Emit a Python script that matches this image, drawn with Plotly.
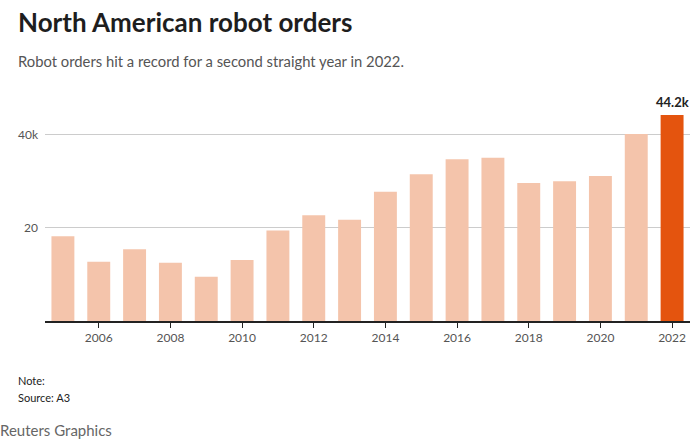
import plotly.graph_objects as go

years = list(range(2005, 2023))
orders = [18.2, 12.7, 15.4, 12.5, 9.5, 13.1, 19.4, 22.7, 21.7, 27.7,
          31.5, 34.7, 35.0, 29.6, 30.0, 31.1, 40.1, 44.2]
x_ticks = list(range(2006, 2023, 2))
y_ticks = [20, 40]
y_labels = ["20", "40k"]

light = "#f4c4ab"
dark = "#e4540e"
colors = [dark if y == 2022 else light for y in years]

FONT = "Lato"
L, T, PW, PH = 45, 100, 645, 221

def px(x):
    return (x - L) / PW

def py(y):
    return (T + PH - y) / PH

fig = go.Figure(go.Bar(x=years, y=orders, marker_color=colors, marker_line_width=0,
                       width=0.64, hoverinfo="skip"))

fig.add_annotation(x=years[-1], y=orders[-1], text="<b>44.2k</b>", showarrow=False,
                   yanchor="bottom", yshift=3, font=dict(size=13, color="#222", family=FONT))

fig.update_layout(
    width=698, height=442,
    margin=dict(l=L, r=698 - L - PW, t=T, b=442 - T - PH),
    paper_bgcolor="white", plot_bgcolor="white",
    showlegend=False,
    font=dict(family=FONT, color="#444"),
    xaxis=dict(range=[2004.5, 2022.5], tickvals=x_ticks, ticks="outside", ticklen=5,
               tickcolor="#222", showline=True, linecolor="#222", linewidth=1.5,
               showgrid=False, tickfont=dict(size=12, color="#555"), fixedrange=True),
    yaxis=dict(range=[0, 47.4], tickvals=y_ticks, ticktext=y_labels, showgrid=True,
               gridcolor="#cccccc", gridwidth=1, zeroline=False, ticks="",
               ticklabelstandoff=6, tickfont=dict(size=12, color="#555"), fixedrange=True),
)

def note(text, x, y, size, color):
    fig.add_annotation(xref="paper", yref="paper", x=px(x), y=py(y), xanchor="left",
                       yanchor="middle", showarrow=False, text=text,
                       font=dict(size=size, color=color, family=FONT))

note("<b>North American robot orders</b>", 16, 22, 26, "#1e1e1e")
note("Robot orders hit a record for a second straight year in 2022.", 16, 61, 14.8, "#555")
note("Note:", 16, 380, 11, "#222")
note("Source: A3", 16, 397, 11, "#222")
note("Reuters Graphics", -2, 430, 15, "#666")

fig.write_html("out.html", config={"displayModeBar": False, "staticPlot": True})
with open("out.html") as f:
    html = f.read()
html = html.replace("<head>", "<head><style>html,body{margin:0;padding:0;overflow:hidden}</style>", 1)
with open("out.html", "w") as f:
    f.write(html)
